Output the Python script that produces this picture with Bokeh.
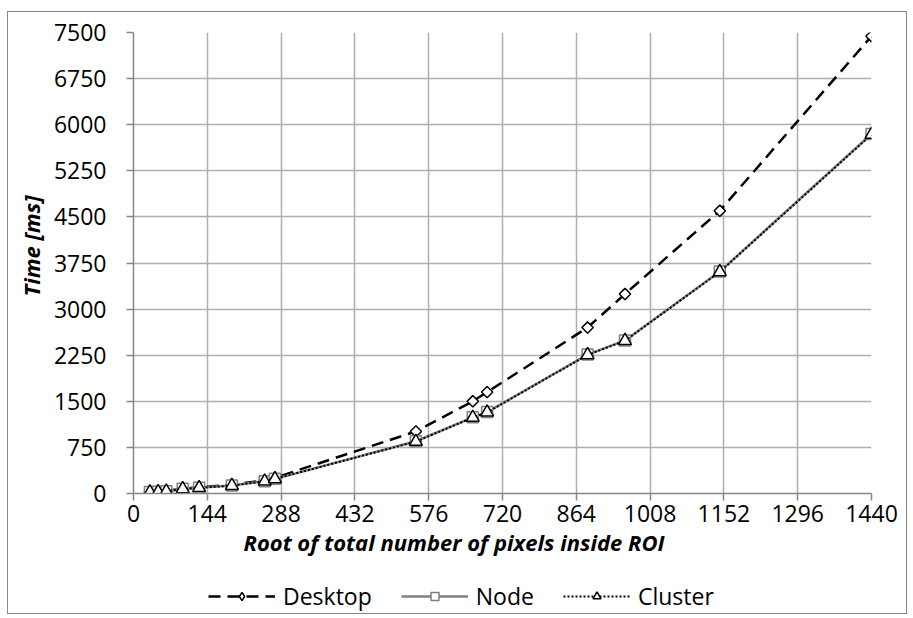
import math
from bokeh.plotting import figure
from bokeh.layouts import column
from bokeh.models import Legend, LegendItem, Title, FixedTicker, Range1d
from bokeh.embed import file_html
from bokeh.resources import INLINE

# ---- data ----
x_vals = [32, 48, 64, 96, 128, 192, 256, 276, 551, 662, 690, 886, 959, 1144, 1440]
desktop = [30, 33, 42, 78, 102, 142, 215, 255, 1010, 1500, 1650, 2700, 3245, 4600, 7440]
node = [26, 29, 38, 76, 95, 130, 200, 238, 850, 1240, 1325, 2260, 2490, 3610, 5850]
cluster = [24, 27, 36, 75, 93, 128, 198, 236, 845, 1235, 1320, 2255, 2485, 3605, 5840]
x_ticks = [0, 144, 288, 432, 576, 720, 864, 1008, 1152, 1296, 1440]
y_ticks = [0, 750, 1500, 2250, 3000, 3750, 4500, 5250, 6000, 6750, 7500]
x_title = "Root of total number of pixels inside ROI"
y_title = "Time [ms]"
series_names = ["Desktop", "Node", "Cluster"]
series_values = [desktop, node, cluster]

FONT = "Open Sans"
W = 898

# ---- main chart ----
p = figure(width=W, height=563, x_range=Range1d(0, 1440), y_range=Range1d(0, 7500),
           output_backend="svg", toolbar_location=None, title=None,
           min_border_left=124, min_border_right=35, min_border_top=20, min_border_bottom=82)
p.outline_line_color = None
p.background_fill_color = "white"
p.border_fill_color = "white"

p.xaxis.ticker = FixedTicker(ticks=x_ticks)
p.yaxis.ticker = FixedTicker(ticks=y_ticks)
p.xgrid.ticker = FixedTicker(ticks=x_ticks)
p.ygrid.ticker = FixedTicker(ticks=y_ticks)
p.grid.grid_line_color = "#aeaeae"
p.grid.grid_line_width = 1.5

for ax in (p.xaxis[0], p.yaxis[0]):
    ax.axis_line_color = "#868686"
    ax.axis_line_width = 1.5
    ax.major_tick_line_color = "#868686"
    ax.major_tick_line_width = 1.5
    ax.major_tick_out = 7
    ax.major_tick_in = 0
    ax.minor_tick_line_color = None
    ax.major_label_text_font = FONT
    ax.major_label_text_font_size = "23px"
    ax.major_label_text_color = "black"
p.yaxis.major_label_standoff = 20
p.xaxis.major_label_standoff = 4

desk_style = dict(line_color="black", line_width=2.5, line_dash="12 7")
desk_mk = dict(marker="square", angle=math.pi / 4, size=8, fill_color="white",
               line_color="black", line_width=1.5)
node_style = dict(line_color="#808080", line_width=2.5)
node_mk = dict(marker="square", size=11, fill_color="white", line_color="#808080", line_width=1.5)
clu_style = dict(line_color="black", line_width=2, line_dash="2 2")
clu_mk = dict(marker="triangle", size=13, fill_color="white", line_color="black", line_width=1.5)
styles = [(desk_style, desk_mk), (node_style, node_mk), (clu_style, clu_mk)]

for vals, (ls, mk) in zip(series_values, styles):
    p.line(x_vals, vals, **ls)
    p.scatter(x_vals, vals, **mk)

xt = Title(text=x_title, align="left", offset=110, text_font=FONT, text_font_size="22px",
           text_font_style="bold italic", text_color="black", standoff=0)
p.add_layout(xt, "below")
yt = Title(text=y_title, align="left", offset=197, text_font=FONT, text_font_size="22px",
           text_font_style="bold italic", text_color="black", standoff=10)
p.add_layout(yt, "left")

# ---- legend strip below the chart (its proxy series lie outside its own range) ----
lp = figure(width=W, height=38, output_backend="svg", toolbar_location=None, title=None,
            x_axis_location=None, y_axis_location=None, min_border=0,
            x_range=Range1d(-2, -1), y_range=Range1d(-2, -1))
lp.grid.visible = False
lp.outline_line_color = None
lp.background_fill_color = "white"
lp.border_fill_color = "white"

legend_markers = [dict(desk_mk, marker="diamond", angle=0), node_mk, clu_mk]
items = []
for name, vals, (ls, _), mk in zip(series_names, series_values, styles, legend_markers):
    r1 = lp.line(x_vals, vals, **ls)
    r2 = lp.scatter(x_vals, vals, **mk)
    items.append(LegendItem(label=name, renderers=[r1, r2]))

legend = Legend(items=items, orientation="horizontal", location=(75, 1),
                glyph_width=67, glyph_height=20, label_standoff=8, spacing=29,
                padding=0, margin=0, border_line_alpha=0, background_fill_alpha=0,
                label_text_font=FONT, label_text_font_size="23px", label_text_color="black")
lp.add_layout(legend)

layout = column(p, lp, spacing=0)
layout.styles = {"border": "1px solid #868686", "margin-left": "7px", "margin-top": "11px"}

open("out.html", "w").write(file_html(layout, INLINE))
